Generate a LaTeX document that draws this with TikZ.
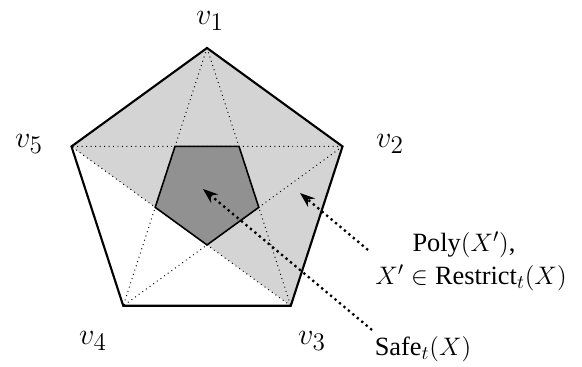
\documentclass[tikz,border=0pt]{standalone}
\usepackage{amsmath,amssymb}
\usepackage{fontspec}
\setmainfont{Liberation Serif}
\usetikzlibrary{arrows.meta,positioning,calc}

\begin{document}
\begin{tikzpicture}[
  outer/.style={draw, line width=1.2pt, line join=miter},
  diag/.style={draw, dotted, line width=0.55pt},
  core/.style={draw, line width=0.9pt, fill=black!43, line join=miter},
  ann/.style={dotted, line width=1.3pt, -{Stealth[length=3mm,width=2.2mm]}},
  vlab/.style={font=\fontsize{19}{23}\selectfont, inner sep=0pt},
  txt/.style={font=\fontsize{15}{18}\selectfont}]
\useasboundingbox (0,0) rectangle (11.64,7.34);
\coordinate (c) at (4.14,3.53);
% outer and inner pentagon corners
\foreach \i/\a in {1/90,2/18,3/-54,4/-126,5/162}
  \coordinate (v\i) at ($(c)+(\a:2.85)$);
\foreach \i/\a in {1/-90,2/-18,3/54,4/126,5/198}
  \coordinate (w\i) at ($(c)+(\a:1.089)$);
\fill[black!17] (v5) -- (v1) -- (v2) -- (v3) -- cycle;
\draw[diag] (v1) -- (v3) (v1) -- (v4) (v2) -- (v4) (v2) -- (v5) (v3) -- (v5);
\draw[core] (w1) -- (w2) -- (w3) -- (w4) -- (w5) -- cycle;
\draw[outer] (v1) -- (v2) -- (v3) -- (v4) -- (v5) -- cycle;
% vertex labels
\node[vlab] (l1) at (4.20,6.92) {$v_1$};
\node[vlab] (l2) at (7.80,4.46) {$v_2$};
\node[vlab] (l3) at (6.24,0.52) {$v_3$};
\node[vlab] (l4) at (1.86,0.52) {$v_4$};
\node[vlab] (l5) at (0.58,4.46) {$v_5$};
% annotations
\node[txt] (poly) at (9.28,2.44) {Poly$(X')$,};
\node[txt] (restr) at (9.42,1.78) {$X'\in\text{Restrict}_t(X)$};
\node[txt] (safe) at (8.46,0.36) {Safe$_t(X)$};
\coordinate (p0) at (7.36,2.34);
\coordinate (p1) at (6.00,3.48);
\coordinate (s0) at (7.44,0.74);
\coordinate (s1) at (4.06,3.56);
\draw[ann] (p0) -- (p1);
\draw[ann] (s0) -- (s1);
\end{tikzpicture}
\end{document}
